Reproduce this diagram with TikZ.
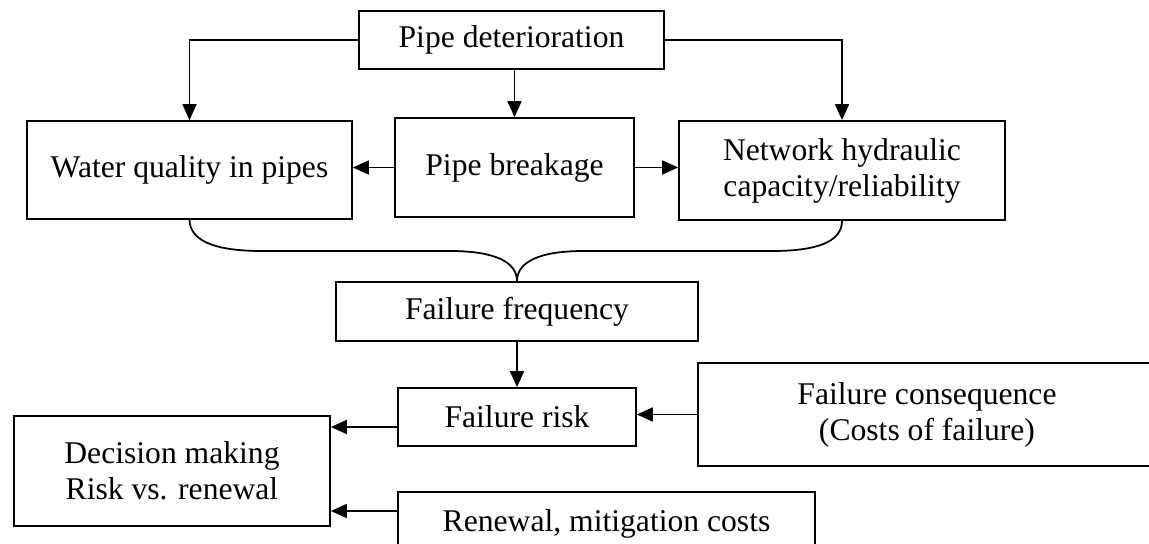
\documentclass[tikz,border=0pt]{standalone}
\usepackage{fontspec}
\setmainfont{Liberation Serif}
\usepackage{tikz}
\usetikzlibrary{arrows.meta,positioning,calc}

\begin{document}
\begin{tikzpicture}[x=0.02cm,y=-0.02cm,
    blk/.style={draw,line width=1pt,align=center,inner sep=0pt,font=\fontsize{18}{20.5}\selectfont},
    link/.style={line width=1pt,-{Triangle[length=0.32cm,width=0.28cm]}},
    brace/.style={line width=1pt}]
\useasboundingbox (0,0) rectangle (1149,544);
% Deterioration chain
\node[blk,minimum width=6.1cm,minimum height=1.16cm] (det) at (511.5,40) {Pipe deterioration};
\node[blk,minimum width=6.5cm,minimum height=1.96cm] (water) at (189.5,170) {Water quality in pipes};
\node[blk,minimum width=4.78cm,minimum height=1.98cm] (brk) at (514.5,167.5) {Pipe breakage};
\node[blk,minimum width=6.52cm,minimum height=1.98cm] (net) at (842,170.5) {Network hydraulic\\capacity/reliability};
\node[blk,minimum width=7.24cm,minimum height=1.18cm] (freq) at (517,311.5) {Failure frequency};
\node[blk,minimum width=4.76cm,minimum height=1.16cm] (risk) at (517,417) {Failure risk};
\node[blk,minimum width=9.16cm,minimum height=2.06cm] (cons) at (927,414.5) {Failure consequence\\(Costs of failure)};
\node[blk,minimum width=6.32cm,minimum height=2.2cm] (dec) at (172,471) {Decision making\\Risk vs. renewal};
\node[blk,minimum width=8.34cm,minimum height=1.28cm] (ren) at (606.5,524) {Renewal, mitigation costs};

\draw[link] (det.west) -| (water.north);
\draw[link] (det.east) -| (net.north);
\draw[link] (brk.north |- det.south) -- (brk.north);
\draw[link] (brk.west) -- (brk.west -| water.east);
\draw[link] (brk.east) -- (brk.east -| net.west);
% brace joining the three effects
\draw[brace] (water.south) .. controls (190,243) and (220,251) .. (262,251) -- (450,251)
    .. controls (495,251) and (517,262) .. (freq.north);
\draw[brace] (freq.north) .. controls (517,262) and (539,251) .. (584,251) -- (772,251)
    .. controls (814,251) and (842,243) .. (net.south);
\draw[link] (freq.south) -- (risk.north);
\draw[link] (cons.west) -- (cons.west -| risk.east);
\draw[link] ([yshift=-0.2cm]risk.west) -- ([yshift=-0.2cm]risk.west -| dec.east);
\draw[link] ([yshift=0.26cm]ren.west) -- ([yshift=0.26cm]ren.west -| dec.east);
\end{tikzpicture}
\end{document}
